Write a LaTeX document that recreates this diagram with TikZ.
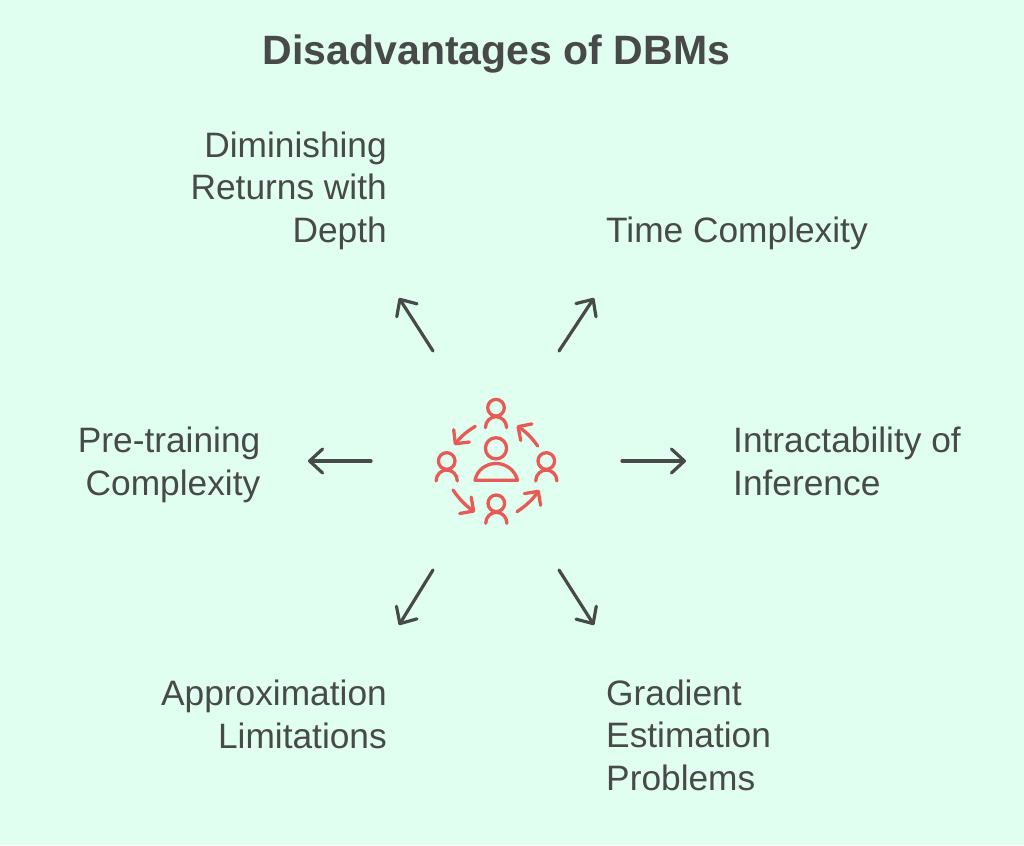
\documentclass[tikz,border=0pt]{standalone}
\usepackage{fontspec}
\setmainfont{Liberation Sans}
\usetikzlibrary{arrows.meta}
\definecolor{bgc}{HTML}{E0FFF0}
\definecolor{ink}{HTML}{484A49}
\definecolor{redc}{HTML}{E85A55}
\tikzset{
 x=1pt,y=-1pt,
 lab/.style={inner sep=0pt,text=ink,font=\fontsize{35.3}{42.5}\selectfont},
 labr/.style={lab,align=right,anchor=base east},
 labl/.style={lab,align=left,anchor=base west},
 conn/.style={draw=ink,line width=3.2pt,line cap=round,line join=round,-{Straight Barb[length=13pt,width=24pt,round]}},
 ico/.style={draw=redc,line width=3.3pt,line cap=round,line join=round},
 icoarr/.style={ico,-{Straight Barb[length=10pt,width=20pt,round]}},
}
\begin{document}
\begin{tikzpicture}
\useasboundingbox (0,0) rectangle (1024,845);
\fill[bgc] (0,0) rectangle (1024,845);
\node[inner sep=0pt,text=ink,anchor=base,font=\fontsize{41}{44}\selectfont\bfseries] (title) at (496.5,65) {Disadvantages of DBMs};
\node[labr] (dim) at (387,242) {Diminishing\\Returns with\\Depth};
\node[labl] (time) at (606,242) {Time Complexity};
\node[labr] (pre) at (260.5,495) {Pre-training\\Complexity};
\node[labl] (intr) at (733,495) {Intractability of\\Inference};
\node[labr] (appr) at (387,748) {Approximation\\Limitations};
\node[labl] (grad) at (606,790) {Gradient\\Estimation\\Problems};
\coordinate (a1s) at (433,351); \coordinate (a1e) at (399,298);
\coordinate (a2s) at (559,351); \coordinate (a2e) at (594,298);
\coordinate (a3s) at (371,461); \coordinate (a3e) at (308,461);
\coordinate (a4s) at (622,461); \coordinate (a4e) at (686,461);
\coordinate (a5s) at (433,570); \coordinate (a5e) at (399,625);
\coordinate (a6s) at (559,570); \coordinate (a6e) at (594,625);
\draw[conn] (a1s) -- (a1e);
\draw[conn] (a2s) -- (a2e);
\draw[conn] (a3s) -- (a3e);
\draw[conn] (a4s) -- (a4e);
\draw[conn] (a5s) -- (a5e);
\draw[conn] (a6s) -- (a6e);
% icon: people
\foreach \hx/\hy in {496/407.7,446.7/461,546.3/461,496.3/503.3}{
  \draw[ico] (\hx,\hy) circle[radius=8.3];
  \draw[ico] (\hx-10.6,\hy+20) .. controls (\hx-10.6,\hy+13.5) and (\hx-5.5,\hy+9) .. (\hx,\hy+9) .. controls (\hx+5.5,\hy+9) and (\hx+10.6,\hy+13.5) .. (\hx+10.6,\hy+20);
}
\draw[ico] (496,448.3) circle[radius=10.6];
\draw[ico] (475,480.3) .. controls (477,470) and (486,463.5) .. (496,463.5) .. controls (506,463.5) and (515,470) .. (517.5,480.3) -- cycle;
% icon: arrows
\draw[icoarr] (475.3,426.3) to[bend right=10] (454.3,445);
\draw[icoarr] (537.7,446) to[bend right=10] (516.7,425.7);
\draw[icoarr] (517,511.7) to[bend right=10] (539.3,490);
\draw[icoarr] (453,490) to[bend right=10] (475,512);
\end{tikzpicture}
\end{document}
